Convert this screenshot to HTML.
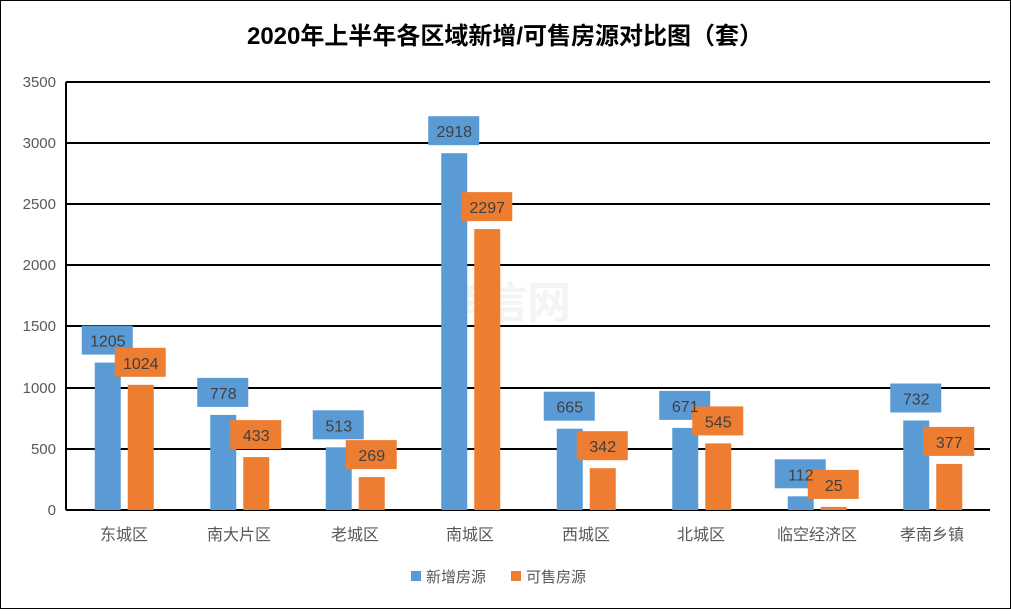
<!DOCTYPE html><html><head><meta charset="utf-8"><style>body{margin:0;width:1011px;height:609px;overflow:hidden;background:#fff}</style></head><body>
<svg width="1011" height="609" xmlns="http://www.w3.org/2000/svg" font-family="'Liberation Sans','Noto Sans CJK SC',sans-serif">
<rect x="0.5" y="0.5" width="1010" height="608" fill="#fff" stroke="#000"/>
<text x="505" y="44" text-anchor="middle" font-size="24" font-weight="bold" fill="#000">2020年上半年各区域新增/可售房源对比图（套）</text>
<text x="505" y="318" text-anchor="middle" font-size="44" font-weight="bold" fill="#f4f4f4">孝信网</text>
<g stroke="#000" stroke-width="2">
<line x1="66" x2="990" y1="82" y2="82"/><line x1="66" x2="990" y1="143" y2="143"/><line x1="66" x2="990" y1="204" y2="204"/><line x1="66" x2="990" y1="265" y2="265"/><line x1="66" x2="990" y1="326" y2="326"/><line x1="66" x2="990" y1="388" y2="388"/><line x1="66" x2="990" y1="449" y2="449"/><line x1="66" x2="990" y1="510" y2="510"/><line x1="66" x2="66" y1="82" y2="510"/></g>
<g font-size="15" fill="#595959" text-anchor="end">
<text x="56" y="87">3500</text><text x="56" y="148">3000</text><text x="56" y="209">2500</text><text x="56" y="270">2000</text><text x="56" y="331">1500</text><text x="56" y="393">1000</text><text x="56" y="454">500</text><text x="56" y="515">0</text></g>
<g fill="#5B9BD5">
<rect x="94.75" y="362.6" width="26" height="147.4"/><rect x="81.75" y="325.6" width="51" height="29"/>
<rect x="210.25" y="414.9" width="26" height="95.1"/><rect x="197.25" y="377.9" width="51" height="29"/>
<rect x="325.75" y="447.3" width="26" height="62.7"/><rect x="312.75" y="410.3" width="51" height="29"/>
<rect x="441.25" y="153.2" width="26" height="356.8"/><rect x="428.25" y="116.2" width="51" height="29"/>
<rect x="556.75" y="428.7" width="26" height="81.3"/><rect x="543.75" y="391.7" width="51" height="29"/>
<rect x="672.25" y="427.9" width="26" height="82.1"/><rect x="659.25" y="390.9" width="51" height="29"/>
<rect x="787.75" y="496.3" width="26" height="13.7"/><rect x="774.75" y="459.3" width="51" height="29"/>
<rect x="903.25" y="420.5" width="26" height="89.5"/><rect x="890.25" y="383.5" width="51" height="29"/>
</g>
<g fill="#ED7D31">
<rect x="127.75" y="384.8" width="26" height="125.2"/><rect x="114.75" y="347.8" width="51" height="29"/>
<rect x="243.25" y="457.1" width="26" height="52.9"/><rect x="230.25" y="420.1" width="51" height="29"/>
<rect x="358.75" y="477.1" width="26" height="32.9"/><rect x="345.75" y="440.1" width="51" height="29"/>
<rect x="474.25" y="229.1" width="26" height="280.9"/><rect x="461.25" y="192.1" width="51" height="29"/>
<rect x="589.75" y="468.2" width="26" height="41.8"/><rect x="576.75" y="431.2" width="51" height="29"/>
<rect x="705.25" y="443.4" width="26" height="66.6"/><rect x="692.25" y="406.4" width="51" height="29"/>
<rect x="820.75" y="506.9" width="26" height="3.1"/><rect x="807.75" y="469.9" width="51" height="29"/>
<rect x="936.25" y="463.9" width="26" height="46.1"/><rect x="923.25" y="426.9" width="51" height="29"/>
</g>
<g font-size="16" fill="#404040" text-anchor="middle">
<text x="107.75" y="346.6">1205</text><text x="223.25" y="398.9">778</text><text x="338.75" y="431.3">513</text><text x="454.25" y="137.2">2918</text><text x="569.75" y="412.7">665</text><text x="685.25" y="411.9">671</text><text x="800.75" y="480.3">112</text><text x="916.25" y="404.5">732</text>
<text x="140.75" y="368.8">1024</text><text x="256.25" y="441.1">433</text><text x="371.75" y="461.1">269</text><text x="487.25" y="213.1">2297</text><text x="602.75" y="452.2">342</text><text x="718.25" y="427.4">545</text><text x="833.75" y="490.9">25</text><text x="949.25" y="447.9">377</text>
</g>
<g font-size="16" fill="#595959" text-anchor="middle">
<text x="124" y="540">东城区</text><text x="239" y="540">南大片区</text><text x="355" y="540">老城区</text><text x="470" y="540">南城区</text><text x="586" y="540">西城区</text><text x="701" y="540">北城区</text><text x="817" y="540">临空经济区</text><text x="932" y="540">孝南乡镇</text></g>
<rect x="411" y="571" width="10" height="10" fill="#5B9BD5"/><text x="426" y="582" font-size="15" fill="#595959">新增房源</text>
<rect x="511" y="571" width="10" height="10" fill="#ED7D31"/><text x="526" y="582" font-size="15" fill="#595959">可售房源</text>
</svg></body></html>
